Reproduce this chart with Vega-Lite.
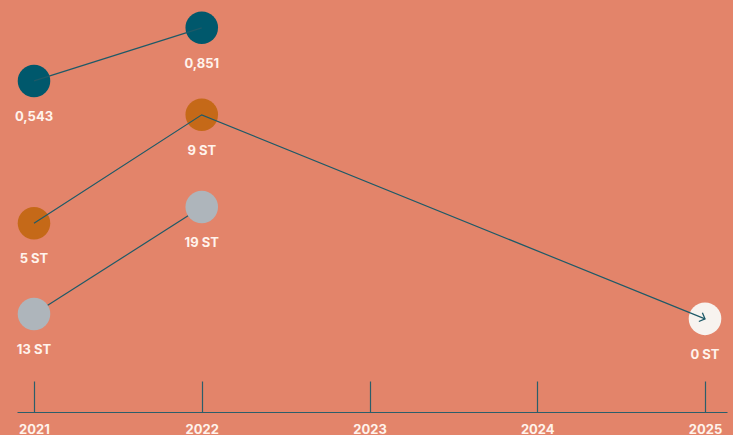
{
  "$schema": "https://vega.github.io/schema/vega-lite/v6.json",
  "width": 733,
  "height": 435,
  "padding": 0,
  "autosize": {"type": "none"},
  "background": "#E3846A",
  "config": {"view": {"stroke": null}},
  "data": {
    "values": [
      {"series": "a", "year": 2021, "pos": 81.4, "label": "0,543"},
      {"series": "a", "year": 2022, "pos": 93.6, "label": "0,851"},
      {"series": "b", "year": 2021, "pos": 48.7, "label": "5 ST"},
      {"series": "b", "year": 2022, "pos": 73.6, "label": "9 ST"},
      {"series": "b", "year": 2025, "pos": 26.7, "label": "0 ST"},
      {"series": "c", "year": 2021, "pos": 27.8, "label": "13 ST"},
      {"series": "c", "year": 2022, "pos": 52.4, "label": "19 ST"}
    ]
  },
  "encoding": {
    "x": {
      "field": "year", "type": "quantitative",
      "scale": {"domain": [2020.8987, 2025.1311], "range": [17, 727], "nice": false, "zero": false},
      "axis": {
        "orient": "bottom", "offset": -23, "title": null,
        "values": [2021, 2022, 2023, 2024, 2025], "format": "d",
        "grid": false, "domainColor": "#2B5E6A", "domainWidth": 1.2,
        "tickColor": "#2B5E6A", "tickSize": -31, "tickWidth": 1.2,
        "labelColor": "#FFF3EC", "labelFont": "Inter", "labelFontWeight": "bold",
        "labelFontSize": 13, "labelPadding": 42, "labelFlush": false, "labelOverlap": false
      }
    },
    "y": {
      "field": "pos", "type": "quantitative",
      "scale": {"domain": [0, 100], "nice": false, "zero": false},
      "axis": null
    }
  },
  "layer": [
    {
      "transform": [{"filter": "datum.series === 'c'"}],
      "mark": {"type": "line", "color": "#1E5A68", "strokeWidth": 1.2},
      "encoding": {"detail": {"field": "series"}}
    },
    {
      "mark": {"type": "point", "filled": true, "opacity": 1, "size": 1060, "strokeWidth": 0},
      "encoding": {
        "color": {
          "field": "label", "type": "nominal",
          "scale": {
            "domain": ["0,543", "0,851", "5 ST", "9 ST", "0 ST", "13 ST", "19 ST"],
            "range": ["#00586C", "#00586C", "#C56918", "#C56918", "#F7F3EF", "#AEB5BB", "#AEB5BB"]
          },
          "legend": null
        }
      }
    },
    {
      "transform": [{"filter": "datum.series !== 'c'"}],
      "mark": {"type": "line", "color": "#1E5A68", "strokeWidth": 1.2},
      "encoding": {"detail": {"field": "series"}}
    },
    {
      "transform": [{"filter": "datum.year === 2025"}],
      "mark": {"type": "point", "shape": "M-1,-1L0,0L-1,1", "filled": false, "stroke": "#1E5A68", "strokeWidth": 1.3, "size": 90, "angle": 22, "opacity": 1}
    },
    {
      "mark": {"type": "text", "dy": 36, "baseline": "middle", "align": "center", "font": "Inter", "fontWeight": "bold", "fontSize": 13, "color": "#FFF3EC"},
      "encoding": {"text": {"field": "label"}}
    }
  ]
}
